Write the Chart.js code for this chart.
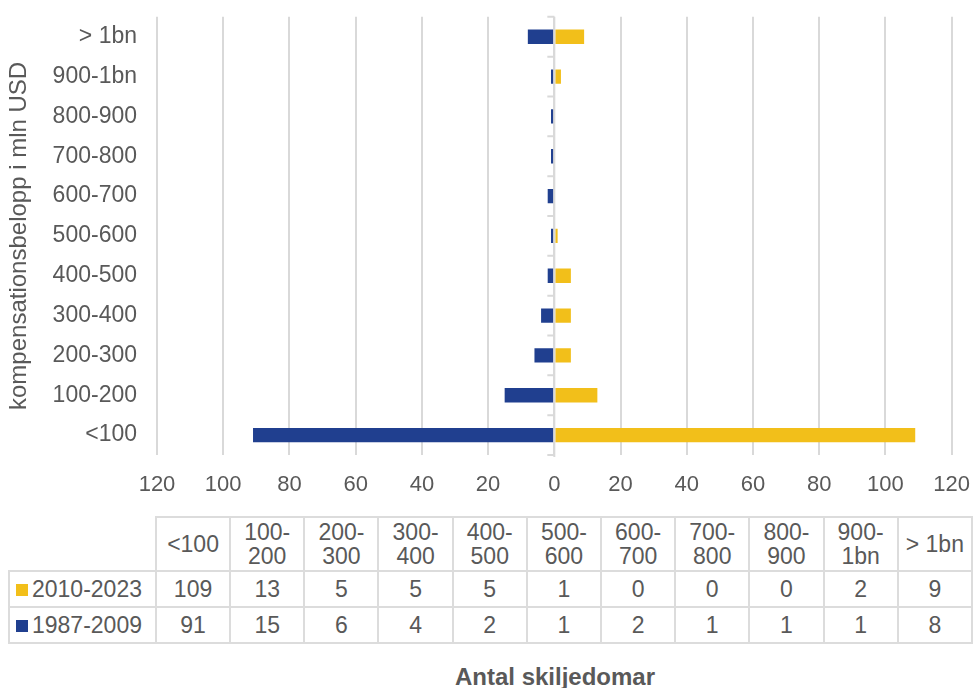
<!DOCTYPE html>
<html>
<head>
<meta charset="utf-8">
<script src="https://cdn.jsdelivr.net/npm/chart.js@4.4.0/dist/chart.umd.min.js"></script>
<style>
  body { margin: 0; background: #fff; font-family: 'Liberation Sans', Arial, sans-serif; color: #595959; }
  #wrap { position: relative; width: 973px; height: 688px; overflow: hidden; }
  #chartBox { position: absolute; left: 0; top: 0; width: 973px; height: 510px; }
  #tbl { position: absolute; left: 8px; top: 516px; border-collapse: collapse; table-layout: fixed; font-size: 23px; }
  #tbl td { border: 2px solid #dcdcdc; text-align: center; padding: 0; line-height: 24px; }
  #tbl tr.head td { height: 52px; }
  #tbl tr.row td { height: 34px; }
  #tbl td.blank { border: none; }
  #tbl td.lab { text-align: left; padding-left: 6px; white-space: nowrap; overflow: hidden; }
  .sq { display: inline-block; width: 12px; height: 12px; margin-right: 4px; vertical-align: 1px; }
  #xtitle { position: absolute; left: 0; width: 1110px; top: 663px; text-align: center; font-weight: bold; font-size: 24px; }
</style>
</head>
<body>
<div id="wrap">
  <div id="chartBox"><canvas id="c"></canvas></div>
  <table id="tbl"></table>
  <div id="xtitle">Antal skiljedomar</div>
</div>
<script>
// categories (compensation brackets, mln USD)
const categories = ['<100', '100-200', '200-300', '300-400', '400-500', '500-600',
  '600-700', '700-800', '800-900', '900-1bn', '> 1bn'];
// table header labels (two-line)
const headerLabels = [['<100'], ['100-', '200'], ['200-', '300'], ['300-', '400'], ['400-', '500'],
  ['500-', '600'], ['600-', '700'], ['700-', '800'], ['800-', '900'], ['900-', '1bn'], ['> 1bn']];
const recent = [109, 13, 5, 5, 5, 1, 0, 0, 0, 2, 9];   // 2010-2023
const early = [91, 15, 6, 4, 2, 1, 2, 1, 1, 1, 8];     // 1987-2009
const recentLabel = '2010-2023';
const earlyLabel = '1987-2009';
const xTicks = [-120, -100, -80, -60, -40, -20, 0, 20, 40, 60, 80, 100, 120];

const YELLOW = '#F2BF1A';
const BLUE = '#203F8F';
const GRID = '#d9d9d9';
const TEXT = '#595959';
const FONT = "'Liberation Sans', Arial, sans-serif";

// data table below the chart
const tbl = document.getElementById('tbl');
let html = '<colgroup><col style="width:147px">' + categories.map(() => '<col style="width:74.3px">').join('') + '</colgroup>';
html += '<tr class="head"><td class="blank"></td>' + headerLabels.map(h => '<td>' + h.join('<br>') + '</td>').join('') + '</tr>';
html += '<tr class="row"><td class="lab"><span class="sq" style="background:' + YELLOW + '"></span>' + recentLabel + '</td>' +
  recent.map(v => '<td>' + v + '</td>').join('') + '</tr>';
html += '<tr class="row"><td class="lab"><span class="sq" style="background:' + BLUE + '"></span>' + earlyLabel + '</td>' +
  early.map(v => '<td>' + v + '</td>').join('') + '</tr>';
tbl.innerHTML = html;

// zero line with small tick marks between categories
const zeroAxis = {
  id: 'zeroAxis',
  afterDatasetsDraw(chart) {
    const { ctx, scales: { x, y } } = chart;
    const x0 = x.getPixelForValue(0);
    const n = categories.length;
    const step = (y.bottom - y.top) / n;
    ctx.save();
    ctx.strokeStyle = GRID;
    ctx.lineWidth = 2;
    ctx.beginPath();
    ctx.moveTo(x0, y.top);
    ctx.lineTo(x0, y.bottom + 2);
    for (let i = 0; i <= n; i++) {
      const yy = y.top + i * step;
      ctx.moveTo(x0 - 7, yy);
      ctx.lineTo(x0, yy);
    }
    ctx.stroke();
    ctx.restore();
  }
};

new Chart(document.getElementById('c'), {
  type: 'bar',
  data: {
    labels: categories,
    datasets: [
      { label: recentLabel, data: recent, backgroundColor: YELLOW, borderWidth: 0 },
      { label: earlyLabel, data: early.map(v => -v), backgroundColor: BLUE, borderWidth: 0 }
    ]
  },
  options: {
    indexAxis: 'y',
    responsive: true,
    maintainAspectRatio: false,
    animation: false,
    layout: { padding: { top: 15, right: 21, left: 0, bottom: 0 } },
    datasets: { bar: { categoryPercentage: 1, barPercentage: 0.36 } },
    plugins: { legend: { display: false }, tooltip: { enabled: false } },
    scales: {
      x: {
        stacked: true,
        min: xTicks[0],
        max: xTicks[xTicks.length - 1],
        afterBuildTicks: s => { s.ticks = xTicks.map(v => ({ value: v })); },
        afterFit: s => { s.height = 55; },
        border: { display: false },
        grid: { color: GRID, lineWidth: 2, drawTicks: true, tickLength: 14, tickColor: 'rgba(0,0,0,0)' },
        ticks: { color: TEXT, font: { family: FONT, size: 22 }, padding: 3, maxRotation: 0,
          callback: v => Math.abs(v) }
      },
      y: {
        stacked: true,
        reverse: true,
        afterFit: s => { s.width = 157; },
        border: { display: false },
        grid: { display: true, drawOnChartArea: false, drawTicks: true, tickLength: 17, tickColor: 'rgba(0,0,0,0)' },
        ticks: { color: TEXT, font: { family: FONT, size: 23 }, padding: 3 },
        title: { display: true, text: 'kompensationsbelopp i mln USD', color: TEXT,
          font: { family: FONT, size: 24 }, padding: { top: 5, bottom: 0 } }
      }
    }
  },
  plugins: [zeroAxis]
});
</script>
</body>
</html>
